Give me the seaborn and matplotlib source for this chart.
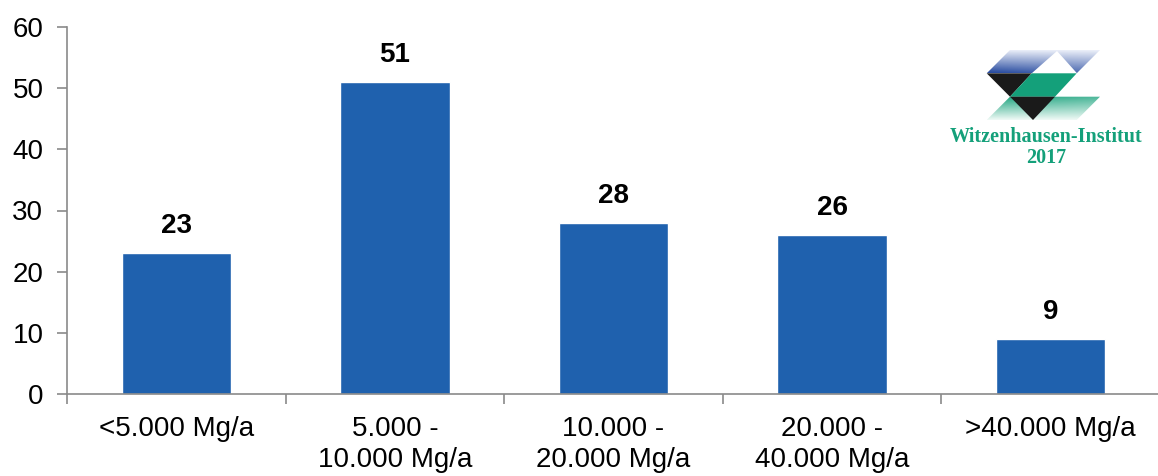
import numpy as np
import matplotlib
matplotlib.use("Agg")
import matplotlib.pyplot as plt
from matplotlib.patches import Polygon
import seaborn as sns
import pandas as pd

# Plant size classes (annual throughput) and number of plants per class
categories = ["<5.000 Mg/a", "5.000 -\n10.000 Mg/a", "10.000 -\n20.000 Mg/a",
              "20.000 -\n40.000 Mg/a", ">40.000 Mg/a"]
counts = [23, 51, 28, 26, 9]
y_ticks = [0, 10, 20, 30, 40, 50, 60]

BAR_BLUE = "#1f61ae"
AXIS_GREY = "#8a8a8a"
LOGO_GREEN = "#14a07a"

sns.set_theme(style="white")
plt.rcParams["font.family"] = ["Liberation Sans", "DejaVu Sans"]

W, H = 1158, 476
fig = plt.figure(figsize=(W / 100, H / 100), dpi=100)
ax = fig.add_axes([67 / W, 1 - 394 / H, 1093 / W, 367 / H])

df = pd.DataFrame({"klasse": categories, "anzahl": counts})
sns.barplot(data=df, x="klasse", y="anzahl", color=BAR_BLUE, saturation=1,
            width=0.5, ax=ax, order=categories)

for cont in ax.containers:
    ax.bar_label(cont, fmt="%d", padding=10, fontsize=20, fontweight="bold",
                 color="black")

ax.set_xlim(-0.5, len(categories) - 0.5)
ax.set_ylim(0, 60)
ax.set_yticks(y_ticks)
ax.set_yticklabels([str(v) for v in y_ticks], fontsize=20, color="black")

# Category boundaries carry the tick marks; labels sit at the centres
ax.set_xticks(np.arange(len(categories) + 1) - 0.5)
ax.set_xticklabels([])
ax.set_xticks(np.arange(len(categories)), minor=True)
ax.set_xticklabels(categories, minor=True, fontsize=20, color="black",
                   linespacing=1.25, va="top")
ax.tick_params(axis="x", which="minor", length=0, pad=16)
ax.tick_params(axis="x", which="major", length=7, width=1.2,
               color=AXIS_GREY, direction="out", bottom=True)
ax.tick_params(axis="y", length=7, width=1.2, color=AXIS_GREY,
               direction="out", left=True, pad=10)

ax.set_xlabel("")
ax.set_ylabel("")
for side in ["top", "right"]:
    ax.spines[side].set_visible(False)
for side in ["left", "bottom"]:
    ax.spines[side].set_color(AXIS_GREY)
    ax.spines[side].set_linewidth(1.2)

# Institute logo in pixel coordinates
lg = fig.add_axes([0, 0, 1, 1], zorder=5)
lg.set_xlim(0, W)
lg.set_ylim(H, 0)
lg.axis("off")
lg.patch.set_alpha(0)


def gradient_poly(pts, c_strong, c_weak, strong_at):
    poly = Polygon(pts, closed=True, facecolor="none", edgecolor="none")
    lg.add_patch(poly)
    xs = [p[0] for p in pts]
    ys = [p[1] for p in pts]
    n = 64
    t = np.linspace(0, 1, n)          # row 0 is the top edge
    rows = t if strong_at == "bottom" else t[::-1]
    cols = np.linspace(1.0, 0.75, n)  # slightly weaker towards the right
    grad = rows[:, None] * cols[None, :]
    c1 = np.array(matplotlib.colors.to_rgb(c_strong))
    c2 = np.array(matplotlib.colors.to_rgb(c_weak))
    img = c2[None, None, :] * (1 - grad[..., None]) + c1[None, None, :] * grad[..., None]
    im = lg.imshow(img, extent=(min(xs), max(xs), max(ys), min(ys)),
                   origin="upper", aspect="auto", interpolation="bilinear")
    im.set_clip_path(poly)


y0, y1, y2, y3 = 50, 73.3, 96.7, 120
# top blue band, strongest along its lower edge
gradient_poly([(1010, y0), (1100, y0), (1076.7, y1), (986.7, y1)],
              "#24489e", "#f2f5fc", "bottom")
lg.add_patch(Polygon([(1057, y0 + 1), (1031.7, y1), (1077, y1)],
                     closed=True, facecolor="white", edgecolor="none"))
# middle band
lg.add_patch(Polygon([(986.7, y1), (1031.7, y1), (1010, y2)],
                     closed=True, facecolor="#1a1a1a", edgecolor="none"))
lg.add_patch(Polygon([(1031.7, y1), (1076.7, y1), (1055, y2), (1010, y2)],
                     closed=True, facecolor=LOGO_GREEN, edgecolor="none"))
# bottom green band, fading towards its lower edge
gradient_poly([(1010, y2), (1100, y2), (1076.7, y3), (986.7, y3)],
              LOGO_GREEN, "#f0faf6", "top")
lg.add_patch(Polygon([(1010, y2), (1055, y2), (1033, y3)],
                     closed=True, facecolor="#1a1a1a", edgecolor="none"))

lg.text(1046, 137, "Witzenhausen-Institut", ha="center", va="center",
        fontsize=14.5, fontweight="bold", color=LOGO_GREEN,
        family=["Liberation Serif", "DejaVu Serif"])
lg.text(1046, 158, "2017", ha="center", va="center",
        fontsize=14.5, fontweight="bold", color=LOGO_GREEN,
        family=["Liberation Serif", "DejaVu Serif"])

fig.savefig("out.png", dpi=100)
